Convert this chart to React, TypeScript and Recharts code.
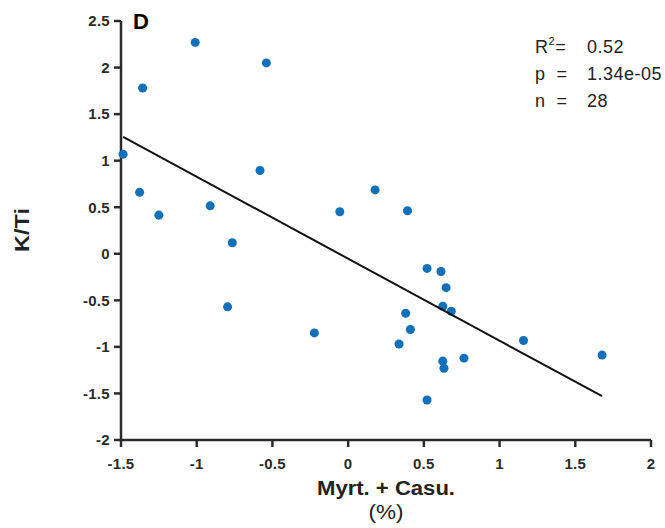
import { ScatterChart, Scatter, XAxis, YAxis } from 'recharts';

// Myrt. + Casu. (%) vs K/Ti
const xVals = [
  -1.01, -0.54, -1.357, -1.486, -1.377, -1.25, -0.582, -0.911, -0.765, -0.796,
  -0.223, -0.055, 0.178, 0.392, 0.521, 0.613, 0.647, 0.625, 0.681, 0.38,
  0.411, 0.336, 0.625, 0.633, 0.765, 0.521, 1.158, 1.677,
];
const yVals = [
  2.27, 2.05, 1.78, 1.07, 0.66, 0.415, 0.895, 0.515, 0.118, -0.57,
  -0.85, 0.451, 0.686, 0.462, -0.157, -0.19, -0.364, -0.563, -0.617, -0.639,
  -0.813, -0.969, -1.153, -1.229, -1.121, -1.57, -0.932, -1.088,
];
const fitX = [-1.486, 1.677];
const fitY = [1.256, -1.53];

const xTicks = [-1.5, -1, -0.5, 0, 0.5, 1, 1.5, 2];
const yTicks = [-2, -1.5, -1, -0.5, 0, 0.5, 1, 1.5, 2, 2.5];

const statLabels = ['p', 'n'];
const statValues = ['0.52', '1.34e-05', '28'];

const points = xVals.map((x, i) => ({ x, y: yVals[i] }));
const fitLine = fitX.map((x, i) => ({ x, y: fitY[i] }));

const axisColor = '#2b2b2b';
const tickStyle = { fill: '#2b2b2b', fontSize: 15, fontWeight: 700, letterSpacing: 0.3 };

const App = () => {
  return (
    <div style={{ position: 'absolute', left: 0, top: 0, width: 665, height: 528, fontFamily: '"Liberation Sans", Arial, sans-serif', background: '#fff' }}>
      <ScatterChart width={665} height={528} margin={{ top: 21, right: 14, bottom: 0, left: 0 }}>
        <XAxis
          type="number"
          dataKey="x"
          domain={[-1.5, 2]}
          ticks={xTicks}
          tickFormatter={(v) => String(v)}
          stroke={axisColor}
          strokeWidth={2.5}
          tickSize={7}
          tickMargin={11}
          tick={tickStyle}
          height={88}
          label={{
            content: () => (
              <g>
                <text x={386} y={488} textAnchor="middle" dominantBaseline="central" fontSize={20} fontWeight={700} fill="#222" textLength={138} lengthAdjust="spacingAndGlyphs">
                  Myrt. + Casu.
                </text>
                <text x={386} y={512} textAnchor="middle" dominantBaseline="central" fontSize={20} fill="#222" textLength={35} lengthAdjust="spacingAndGlyphs">
                  (%)
                </text>
              </g>
            ),
          }}
        />
        <YAxis
          type="number"
          dataKey="y"
          domain={[-2, 2.5]}
          ticks={yTicks}
          tickFormatter={(v) => String(v)}
          stroke={axisColor}
          strokeWidth={2.5}
          tickSize={7}
          tickMargin={4}
          tick={tickStyle}
          width={121}
          label={{
            content: () => (
              <g>
                <text x={22} y={230} transform="rotate(-90 22 230)" textAnchor="middle" dominantBaseline="central" fontSize={20} fontWeight={700} fill="#222" textLength={44} lengthAdjust="spacingAndGlyphs">
                  K/Ti
                </text>
                <text x={133} y={21} dominantBaseline="central" fontSize={22} fontWeight={700} fill="#000">
                  D
                </text>
              </g>
            ),
          }}
        />
        <Scatter data={points} fill="#1170b8" isAnimationActive={false} />
        <Scatter
          data={fitLine}
          line={{ stroke: '#111', strokeWidth: 2 }}
          shape={() => <g />}
          isAnimationActive={false}
        />
      </ScatterChart>
      <div style={{ position: 'absolute', left: 535, top: 34, fontSize: 18, color: '#222', lineHeight: '27px', letterSpacing: 0.5 }}>
        <div style={{ display: 'flex', height: 27 }}>
          <span style={{ width: 52 }}>
            R<sup style={{ fontSize: 11, lineHeight: 0, verticalAlign: 8 }}>2</sup>=
          </span>
          <span>{statValues[0]}</span>
        </div>
        {statLabels.map((s, i) => (
          <div key={s} style={{ display: 'flex', height: 27 }}>
            <span style={{ width: 52 }}>{s}&nbsp;&nbsp;=</span>
            <span>{statValues[i + 1]}</span>
          </div>
        ))}
      </div>
    </div>
  );
};

export default App;
